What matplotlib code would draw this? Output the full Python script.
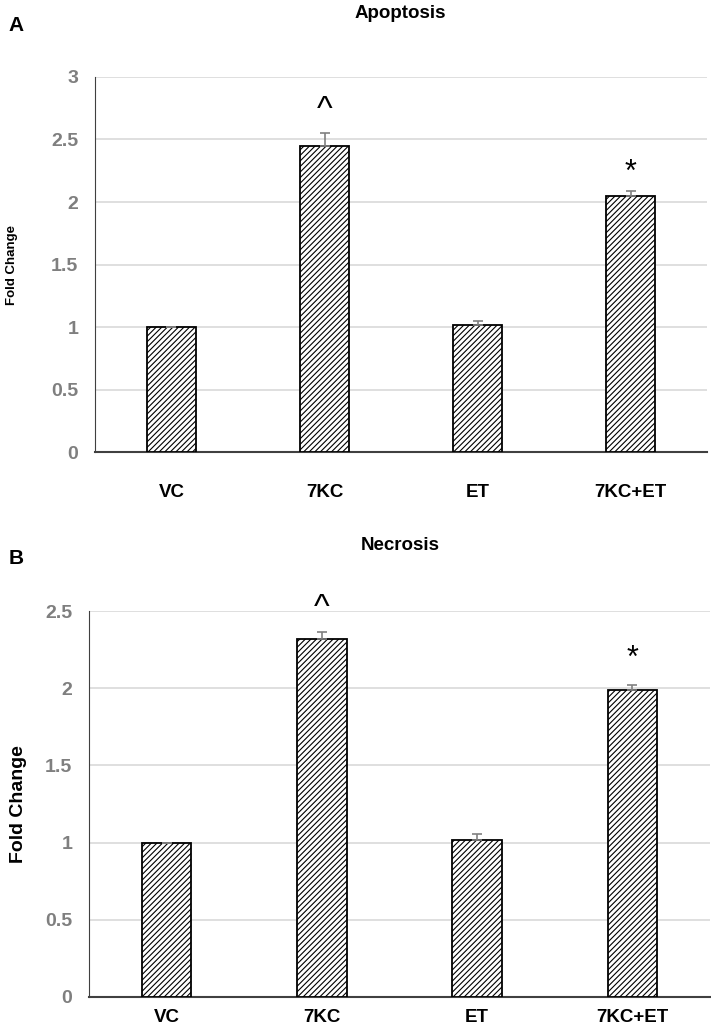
import matplotlib
matplotlib.use('Agg')
import matplotlib.pyplot as plt

plt.rcParams['font.family'] = ['Liberation Sans', 'DejaVu Sans']
plt.rcParams['hatch.linewidth'] = 0.8

# 数据
groups = ['VC', '7KC', 'ET', '7KC+ET']
apoptosis = [1.0, 2.45, 1.02, 2.05]
apoptosis_err = [0.0, 0.10, 0.025, 0.04]
necrosis = [1.0, 2.32, 1.02, 1.99]
necrosis_err = [0.0, 0.045, 0.035, 0.03]
marks = ['', '^', '', '*']

fig = plt.figure(figsize=(7.11, 10.28), dpi=100)


def draw_panel(ax, vals, errs, ymax, ylabel_size, mark_pos, xpad):
    x = range(len(groups))
    ax.bar(x, vals, width=0.32, color='white', edgecolor='black',
           hatch='//////', linewidth=1.3, zorder=3)
    ax.errorbar(x, vals, yerr=[[0] * len(errs), errs], fmt='none',
                ecolor='#808080', elinewidth=1.2, capsize=3.6, capthick=1.2,
                zorder=4)
    for i, m in enumerate(marks):
        if m:
            ax.text(i, mark_pos[i], m, ha='center', va='baseline',
                    fontsize=22 if m == '*' else 24,
                    fontweight='normal',
                    clip_on=False)
    ax.set_xlim(-0.5, 3.5)
    ax.set_ylim(0, ymax)
    ax.set_xticks(list(x))
    ax.set_xticklabels(groups, fontsize=13.5, fontweight='bold')
    n = int(ymax / 0.5) + 1
    ax.set_yticks([i * 0.5 for i in range(n)])
    ax.set_yticklabels(['%g' % (i * 0.5) for i in range(n)],
                       fontsize=14, fontweight='bold', color='#7f7f7f')
    ax.tick_params(length=0)
    ax.tick_params(axis='y', pad=12)
    ax.tick_params(axis='x', pad=xpad)
    ax.grid(axis='y', color='#d9d9d9', linewidth=1.2, zorder=0)
    for s in ['top', 'right']:
        ax.spines[s].set_visible(False)
    ax.spines['left'].set_color('#404040')
    ax.spines['bottom'].set_color('#404040')
    ax.spines['bottom'].set_linewidth(1.5)
    ax.set_ylabel('Fold Change', fontsize=ylabel_size, fontweight='bold')


ax1 = fig.add_axes([0.1336, 0.5603, 0.8608, 0.3648])
draw_panel(ax1, apoptosis, apoptosis_err, 3, 9.5, [0, 2.66, 0, 2.17], 23)
ax1.yaxis.set_label_coords(-0.125, 0.5)

ax2 = fig.add_axes([0.1252, 0.0302, 0.8734, 0.3754])
draw_panel(ax2, necrosis, necrosis_err, 2.5, 14, [0, 2.46, 0, 2.14], 9)
ax2.yaxis.set_label_coords(-0.10, 0.5)

fig.text(0.563, 0.987, 'Apoptosis', fontsize=13.5, fontweight='bold',
         ha='center', va='center')
fig.text(0.563, 0.469, 'Necrosis', fontsize=13.5, fontweight='bold',
         ha='center', va='center')
fig.text(0.012, 0.975, 'A', fontsize=15, fontweight='bold', va='center')
fig.text(0.012, 0.457, 'B', fontsize=15, fontweight='bold', va='center')

fig.savefig('out.png', dpi=100)
